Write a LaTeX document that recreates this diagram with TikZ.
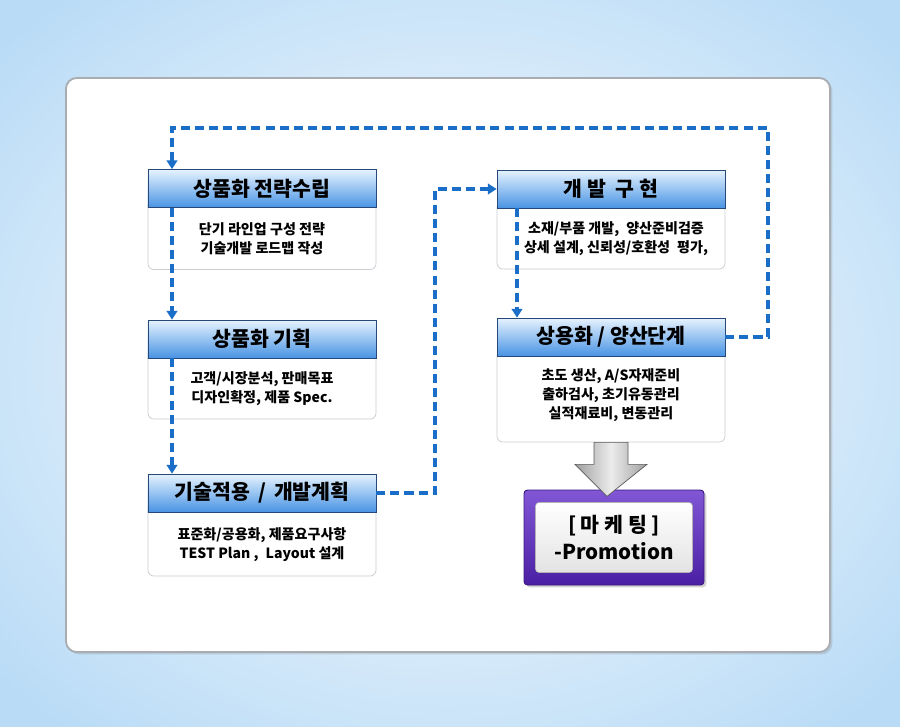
\documentclass[tikz,border=0pt]{standalone}
\usepackage{fontspec}
\setmainfont{Noto Sans CJK KR}
\usetikzlibrary{positioning,arrows.meta,shadows,calc}
\definecolor{FlowBlue}{HTML}{1A6EC8}
\definecolor{HdrTop}{HTML}{E6F3FE}
\definecolor{HdrBot}{HTML}{4893E4}
\definecolor{HdrLine}{HTML}{27497A}
\definecolor{BodyLine}{HTML}{C9CDD2}
\definecolor{SkyBlue}{HTML}{B9DBF6}
\definecolor{PanelLine}{HTML}{A9ADB2}
\definecolor{MkTop}{HTML}{8157D6}
\definecolor{MkBot}{HTML}{4B1FA3}
\definecolor{MkLine}{HTML}{3A1880}

\begin{document}
\begin{tikzpicture}[x=0.03cm, y=-0.03cm,
    hdr/.style={draw=HdrLine, line width=.6pt, top color=HdrTop, bottom color=HdrBot,
        minimum width=6.84cm, minimum height=1.14cm, inner sep=0pt,
        font=\bfseries\fontsize{17.5}{19}\selectfont},
    bodybox/.style={draw=BodyLine, line width=.6pt, fill=white, rounded corners=5pt,
        minimum width=6.84cm, inner sep=0pt},
    bodytxt/.style={align=center, inner sep=0pt,
        font=\bfseries\fontsize{12}{16.2}\selectfont},
    flow/.style={draw=FlowBlue, line width=2.6pt, dash pattern=on 7.7pt off 4.3pt,
        -{Triangle[length=7.5pt, width=9pt]}},
    bigarrow/.style={draw=gray!70!black, line width=.6pt,
        left color=gray!75, right color=gray!75, middle color=gray!15},
]
    \useasboundingbox (0,0) rectangle (900,726);

    % sky background and panel
    \shade[inner color=white, outer color=SkyBlue] (-150,-120) rectangle (1050,846);
    \filldraw[fill=white, draw=PanelLine, line width=1.6pt, rounded corners=9pt,
        drop shadow={opacity=.25, shadow xshift=2pt, shadow yshift=-2pt}]
        (66,78) rectangle (830,652);

    % left column
    \node[hdr] (h1) at (262,188.5) {};
    \node[bodybox, below=-6pt of h1, minimum height=2.05cm] (b1) {};
    \node[hdr] (h1) at (262,188.5) {상품화 전략수립};
    \node[bodytxt] (t1) at ($(h1.south)!.5!(b1.south)$) {단기 라인업 구성 전략\\기술개발 로드맵 작성};

    \node[hdr] (h2) at (262,339) {};
    \node[bodybox, below=-6pt of h2, minimum height=2.02cm] (b2) {};
    \node[hdr] (h2) at (262,339) {상품화 기획};
    \node[bodytxt] (t2) at ($(h2.south)!.5!(b2.south)$) {고객/시장분석, 판매목표\\디자인확정, 제품 Spec.};

    \node[hdr] (h3) at (262,493) {};
    \node[bodybox, below=-6pt of h3, minimum height=2.11cm] (b3) {};
    \node[hdr] (h3) at (262,493) {기술적용 \,/\, 개발계획};
    \node[bodytxt] (t3) at ($(h3.south)!.5!(b3.south)$) {표준화/공용화, 제품요구사항\\TEST Plan ,\enspace Layout 설계};

    % right column
    \node[hdr] (h4) at (611,189) {};
    \node[bodybox, below=-6pt of h4, minimum height=2.02cm] (b4) {};
    \node[hdr] (h4) at (611,189) {개 발 \ 구 현};
    \node[bodytxt] (t4) at ($(h4.south)!.5!(b4.south)+(5,0)$) {소재/부품 개발,\enspace 양산준비검증\\상세 설계, 신뢰성/호환성\enspace 평가,};

    \node[hdr] (h5) at (611,337) {};
    \node[bodybox, below=-6pt of h5, minimum height=2.77cm] (b5) {};
    \node[hdr] (h5) at (611,337) {상용화 / 양산단계};
    \node[bodytxt] (t5) at ($(h5.south)!.45!(b5.south)$) {초도 생산, A/S자재준비\\출하검사, 초기유동관리\\실적재료비, 변동관리};

    % marketing box
    \node[draw=MkLine, line width=.8pt, top color=MkTop, bottom color=MkBot,
        rounded corners=3pt, minimum width=5.4cm, minimum height=2.85cm,
        drop shadow={opacity=.35, shadow xshift=2pt, shadow yshift=-2pt}] (mk) at (614,537.5) {};
    \node[draw=gray!60, line width=.5pt, top color=white, bottom color=gray!22,
        rounded corners=3pt, minimum width=4.71cm, minimum height=2.1cm, align=center,
        font=\bfseries\fontsize{17.5}{23}\selectfont] (mkin) at (mk.center)
        {[ 마 케 팅 ]\\-Promotion};

    % gray arrow into the marketing box
    \draw[bigarrow] ($(b5.south)+(-17,0)$) -- ++(0,22) -- ++(-19,0)
        -- ($(b5.south)+(-4,54)$) -- ($(b5.south)+(36,22)$) -- ++(-19,0)
        -- ($(b5.south)+(17,0)$) -- cycle;

    % dashed flow
    \coordinate (loopR) at (768,128);
    \coordinate (loopL) at (172,128);
    \coordinate (midR) at (435,300);
    \coordinate (rightX) at (517,300);
    \draw[flow] (h5.east) -| (loopR) -- (loopL) -- (loopL |- h1.north);
    \draw[flow] (loopL |- h1.south) -- (loopL |- h2.north);
    \draw[flow] (loopL |- h2.south) -- (loopL |- h3.north);
    \draw[flow] (h3.east) -| (midR |- h4.west) -- (h4.west);
    \draw[flow] (rightX |- h4.south) -- (rightX |- h5.north);
\end{tikzpicture}
\end{document}
